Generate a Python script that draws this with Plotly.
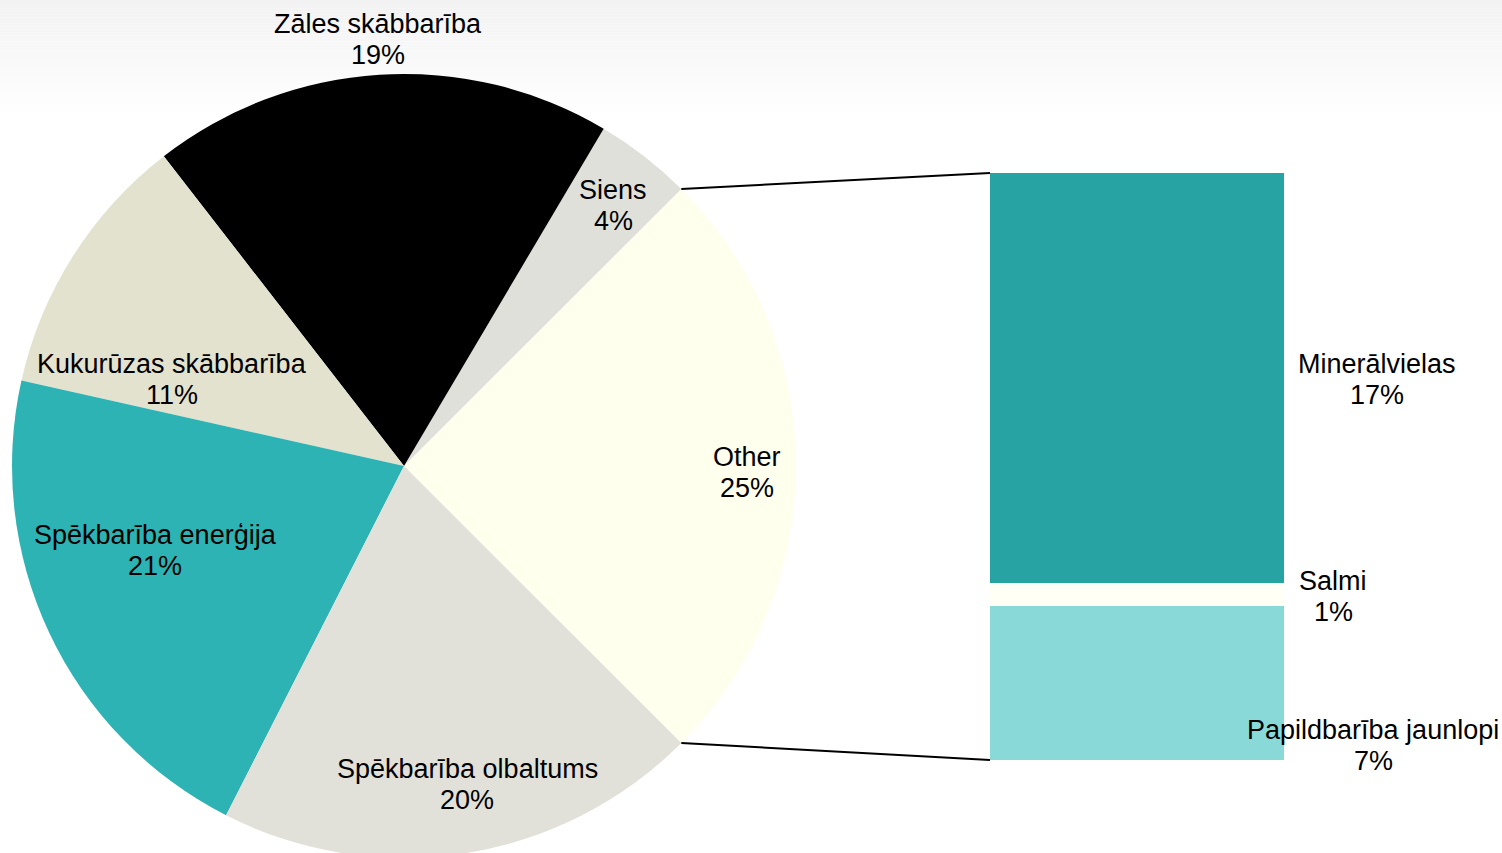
import math
import plotly.graph_objects as go

# ---------------- data ----------------
pie_labels = ["Other", "Siens", "Zāles skābbarība", "Kukurūzas skābbarība",
              "Spēkbarība enerģija", "Spēkbarība olbaltums"]
pie_main_values = [4.0, 19.0, 11.0, 21.0, 20.0]          # Siens .. olbaltums
bar_labels = ["Minerālvielas", "Salmi", "Papildbarība jaunlopi"]
bar_values = [17.45, 0.98, 6.55]

pie_colors = ["#FFFFEE", "#E0E0DA", "#000000", "#E3E2CF", "#2DB3B3", "#E1E1D9"]
bar_colors = ["#27A3A3", "#FFFFF5", "#8AD9D9"]

other_value = sum(bar_values)
pie_values = [other_value] + pie_main_values
total = sum(pie_values)

# ---------------- geometry (pixels) ----------------
# the figure is 5px taller than the window so that the pie is clipped at the bottom
W, H = 1502, 858
cx, cy, r = 404, 466, 392
bar_left, bar_right, bar_top, bar_bottom = 990, 1284, 173, 760

def px(x):
    return x / W

def py(y):
    return 1 - y / H

fig = go.Figure()

fig.add_trace(go.Pie(
    labels=pie_labels, values=pie_values, sort=False,
    direction="counterclockwise",
    rotation=90 - other_value / total * 180,
    marker=dict(colors=pie_colors, line=dict(width=0)),
    textinfo="none", hoverinfo="label+percent", showlegend=False,
    domain=dict(x=[px(cx - r), px(cx + r)], y=[max(0, py(cy + r)), py(cy - r)]),
))

for lab, val, col in reversed(list(zip(bar_labels, bar_values, bar_colors))):
    fig.add_trace(go.Bar(x=[0], y=[val], name=lab, marker=dict(color=col, line=dict(width=0)),
                         width=1, xaxis="x2", yaxis="y2", showlegend=False,
                         hovertemplate=lab + ": %{y:.1f}%<extra></extra>"))

# connector lines from the pie edge to the bar corners
half = other_value / total * math.pi
ex = cx + r * math.cos(half)
ey_top = cy - r * math.sin(half)
ey_bot = cy + r * math.sin(half)
shapes = [
    dict(type="line", xref="paper", yref="paper", x0=px(ex), y0=py(ey_top),
         x1=px(bar_left), y1=py(bar_top), line=dict(color="black", width=2)),
    dict(type="line", xref="paper", yref="paper", x0=px(ex), y0=py(ey_bot),
         x1=px(bar_left), y1=py(bar_bottom), line=dict(color="black", width=2)),
]

# top background gradient
n = 40
g_h = 118
for i in range(n):
    t = i / (n - 1)
    c = int(round(242 + (255 - 242) * t))
    shapes.append(dict(type="rect", xref="paper", yref="paper", layer="below",
                       x0=0, x1=1, y0=py((i + 1) * g_h / n), y1=py(i * g_h / n),
                       fillcolor=f"rgb({c},{c},{c})", line=dict(width=0)))

# labels (pixel centres of the two lines)
pie_pcts = [round(v / total * 100) for v in pie_values]
bar_pcts = [round(v / total * 100) for v in bar_values]
label_pos = {
    "Other": (747, 457, 488),
    "Siens": (613, 190, 221),
    "Zāles skābbarība": (378, 24, 55),
    "Kukurūzas skābbarība": (172, 364, 395),
    "Spēkbarība enerģija": (155, 535, 566),
    "Spēkbarība olbaltums": (467, 769, 800),
    "Minerālvielas": (1377, 364, 395),
    "Salmi": (1333, 581, 612),
    "Papildbarība jaunlopi": (1373, 730, 761),
}
annotations = []
font = dict(family="Liberation Sans, Arial, sans-serif", size=27, color="black")
for lab, pct in list(zip(pie_labels, pie_pcts)) + list(zip(bar_labels, bar_pcts)):
    x, y1, y2 = label_pos[lab]
    for txt, yy in ((lab, y1), (f"{pct}%", y2)):
        annotations.append(dict(text=txt, x=px(x), y=py(yy), xref="paper", yref="paper",
                                xanchor="center", yanchor="middle", showarrow=False, font=font))

fig.update_layout(
    width=W, height=H,
    margin=dict(l=0, r=0, t=0, b=0),
    paper_bgcolor="white", plot_bgcolor="rgba(0,0,0,0)",
    barmode="stack", bargap=0,
    xaxis2=dict(domain=[px(bar_left), px(bar_right)], range=[-0.5, 0.5], visible=False,
                fixedrange=True),
    yaxis2=dict(domain=[py(bar_bottom), py(bar_top)], range=[0, other_value], visible=False,
                anchor="x2", fixedrange=True),
    xaxis=dict(visible=False), yaxis=dict(visible=False),
    shapes=shapes, annotations=annotations,
)

fig.write_html(
    "out.html",
    config={"displayModeBar": False},
    post_script="document.body.style.margin='0';document.body.style.overflow='hidden';",
)
